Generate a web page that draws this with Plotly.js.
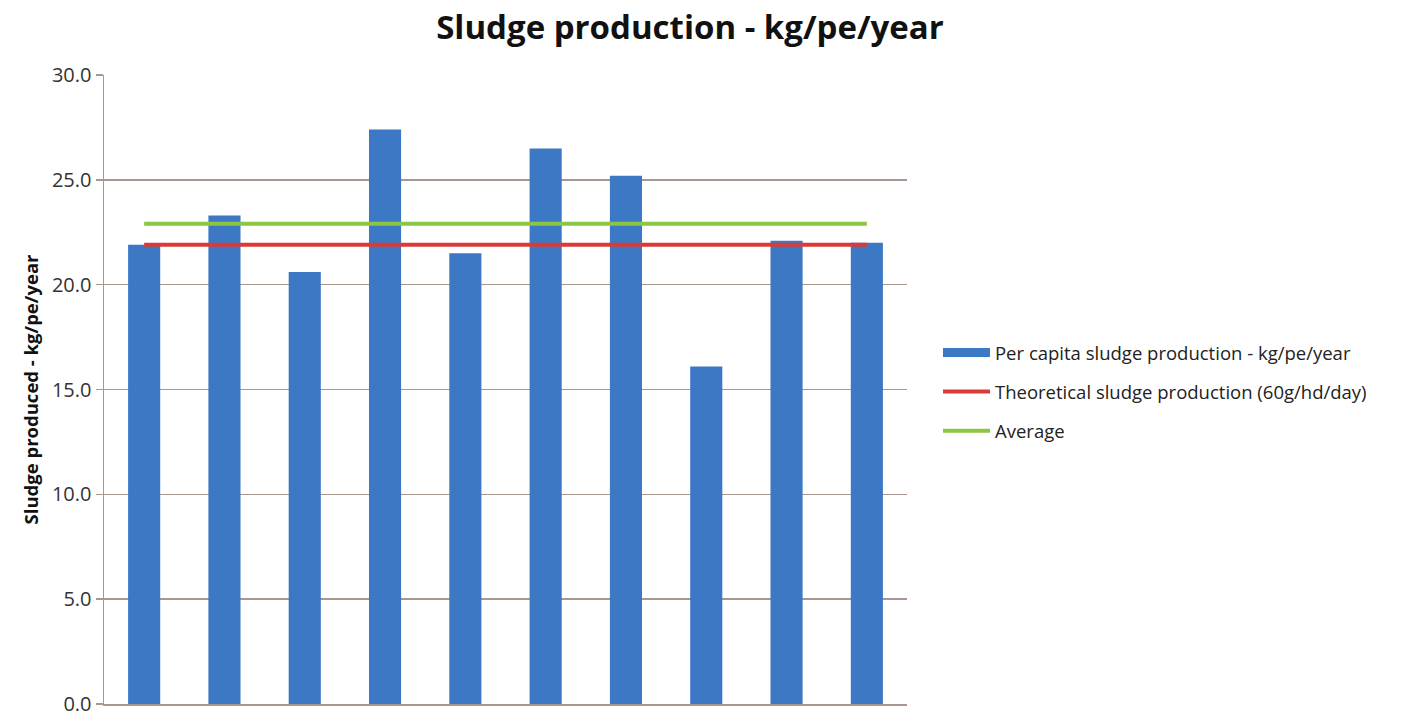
<!DOCTYPE html>
<html>
<head>
<meta charset="utf-8">
<script src="https://cdn.plot.ly/plotly-3.0.1.min.js"></script>
<style>html,body{margin:0;padding:0;background:#fff;}#chart{width:1403px;height:722px;}</style>
</head>
<body>
<div id="chart"></div>
<script>
const categories = ["1","2","3","4","5","6","7","8","9","10"];
const perCapita = [21.9, 23.3, 20.6, 27.4, 21.5, 26.5, 25.2, 16.1, 22.1, 22.0];
const theoretical = [21.9, 21.9, 21.9, 21.9, 21.9, 21.9, 21.9, 21.9, 21.9, 21.9];
const average = [22.9, 22.9, 22.9, 22.9, 22.9, 22.9, 22.9, 22.9, 22.9, 22.9];
const yTicks = [0, 5, 10, 15, 20, 25, 30];
const yTickLabels = ["0.0", "5.0", "10.0", "15.0", "20.0", "25.0", "30.0"];
const seriesNames = ["Per capita sludge production - kg/pe/year", "Theoretical sludge production (60g/hd/day)", "Average"];

const blue = "#3D78C4", red = "#DB3B36", green = "#8DC641", axisCol = "#A8978F";

const traces = [
  {type: "bar", x: categories, y: perCapita, name: seriesNames[0], marker: {color: blue}, showlegend: false, hoverinfo: "y"},
  {type: "scatter", mode: "lines", x: [null], y: [null], name: seriesNames[0], line: {color: blue, width: 9}, legendgroup: "a"},
  {type: "scatter", mode: "lines", x: categories, y: theoretical, name: seriesNames[1], line: {color: red, width: 4}, legendgroup: "b"},
  {type: "scatter", mode: "lines", x: categories, y: average, name: seriesNames[2], line: {color: green, width: 4}, legendgroup: "c"}
];

const layout = {
  width: 1403, height: 722,
  margin: {l: 104, r: 496, t: 75, b: 18, pad: 0},
  paper_bgcolor: "#fff", plot_bgcolor: "#fff",
  font: {family: "Open Sans, sans-serif", color: "#222"},
  title: {text: "<b>Sludge production - kg/pe/year</b>", font: {size: 33, color: "#111", family: "Open Sans, sans-serif"}, x: 0.4918, xanchor: "center", y: 0.962, yanchor: "middle"},
  bargap: 0.6,
  showlegend: true,
  legend: {x: 1.0386, xanchor: "left", y: 0.496, yanchor: "middle", font: {size: 18.5, color: "#222"}, traceorder: "grouped", tracegroupgap: 12, bgcolor: "rgba(0,0,0,0)", itemwidth: 47},
  xaxis: {type: "category", categoryarray: categories, showticklabels: false, ticks: "", showgrid: false, zeroline: false, showline: true, linecolor: axisCol, linewidth: 1.5, range: [-0.5, 9.5], fixedrange: true},
  yaxis: {range: [0, 30], tickvals: yTicks, ticktext: yTickLabels, ticks: "outside", ticklen: 7, tickcolor: axisCol, tickwidth: 1.5, showgrid: true, gridcolor: axisCol, gridwidth: 1.5, zeroline: false, showline: true, linecolor: axisCol, linewidth: 1.5, tickfont: {size: 20, color: "#333"},
    title: {text: "<b>Sludge produced - kg/pe/year</b>", font: {size: 18.5, color: "#111"}, standoff: 8}}
};

Plotly.newPlot("chart", traces, layout, {displayModeBar: false, staticPlot: true});
</script>
</body>
</html>
